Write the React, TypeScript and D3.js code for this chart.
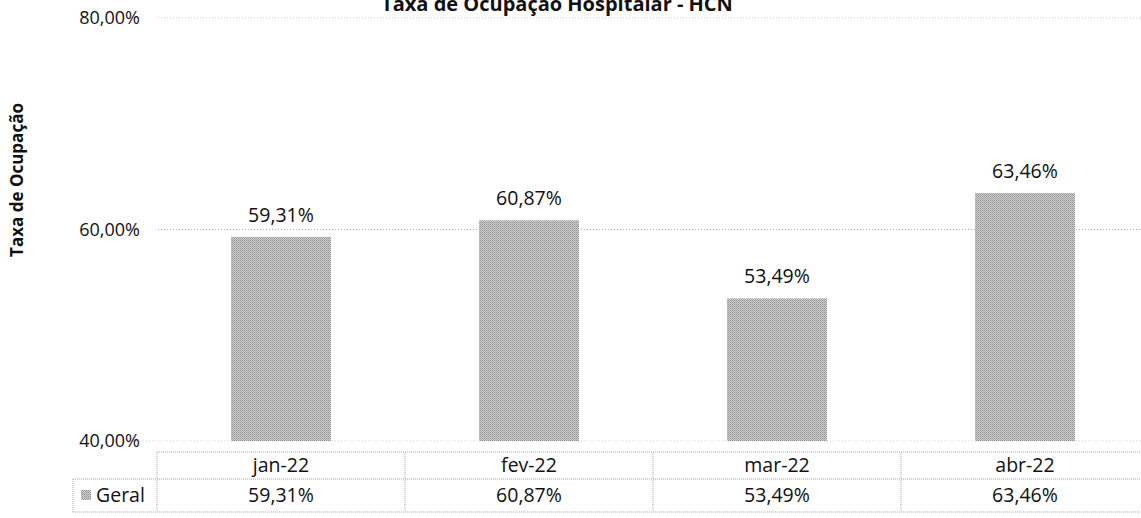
import React from 'react';
import * as d3 from 'd3';

const categories = ['jan-22', 'fev-22', 'mar-22', 'abr-22'];
const geral = [59.31, 60.87, 53.49, 63.46];
const yTicks = [40, 60, 80];
const seriesName = 'Geral';
const title = 'Taxa de Ocupação Hospitalar - HCN';
const yTitle = 'Taxa de Ocupação';

const W = 1141;
const H = 518;
const FONT = '"Open Sans", "Noto Sans", sans-serif';

const ptBR = d3.formatLocale({ decimal: ',', thousands: '.', grouping: [3], currency: ['R$', ''] });
const fmt = (v: number) => ptBR.format('.2f')(v) + '%';

export default function App() {
  const left = 157;
  const right = 1149;
  const top = 18;
  const bottom = 441;

  const x = d3.scaleBand<string>().domain(categories).range([left, right]).paddingInner(0.597).paddingOuter(0.2985);
  const y = d3.scaleLinear().domain([40, 80]).range([bottom, top]);
  const step = x.step();
  const colX = (i: number) => left + i * step;

  const tableTop = 452;
  const rowSep = 479;
  const tableBottom = 512;
  const legendLeft = 73;

  const gridStroke = '#a8a8a8';

  return (
    <svg width={W} height={H} style={{ position: 'absolute', left: 0, top: 0, background: '#fff' }}>
      <defs>
        <pattern id="halftone" width={2} height={2} patternUnits="userSpaceOnUse">
          <rect width={2} height={2} fill="#d2d2d2" />
          <rect width={1} height={1} fill="#8e8e8e" />
          <rect x={1} y={1} width={1} height={1} fill="#a6a6a6" />
        </pattern>
      </defs>

      <text x={557} y={11} textAnchor="middle" fontFamily={FONT} fontWeight="bold" fontSize={20} fill="#111">
        {title}
      </text>

      <text transform={`translate(23,180) rotate(-90)`} textAnchor="middle" fontFamily={FONT} fontWeight="bold" fontSize={17} fill="#111">
        {yTitle}
      </text>

      {yTicks.map((t) => (
        <g key={t}>
          <line x1={t === 40 ? 140 : 158} x2={W} y1={y(t)} y2={y(t)} stroke={gridStroke} strokeWidth={1} strokeDasharray="1,2" opacity={t === 60 ? 1 : 0.55} />
          <text x={140} y={y(t)} dy="0.35em" textAnchor="end" fontFamily={FONT} fontSize={18} fill="#111">
            {ptBR.format('.2f')(t) + '%'}
          </text>
        </g>
      ))}

      {categories.map((c, i) => (
        <g key={c}>
          <rect x={x(c)} y={y(geral[i])} width={x.bandwidth()} height={bottom - y(geral[i])} fill="url(#halftone)" />
          <text x={(x(c) ?? 0) + x.bandwidth() / 2} y={y(geral[i]) - 15} textAnchor="middle" fontFamily={FONT} fontSize={19.5} fill="#111">
            {fmt(geral[i])}
          </text>
        </g>
      ))}

      {/* data table */}
      <g stroke={gridStroke} strokeWidth={1} strokeDasharray="1,1">
        <line x1={left} x2={W} y1={tableTop} y2={tableTop} />
        <line x1={legendLeft} x2={W} y1={rowSep} y2={rowSep} />
        <line x1={legendLeft} x2={W} y1={tableBottom} y2={tableBottom} />
        <line x1={legendLeft} x2={legendLeft} y1={rowSep} y2={tableBottom} />
        {d3.range(categories.length + 1).map((i) => (
          <line key={i} x1={colX(i)} x2={colX(i)} y1={tableTop} y2={tableBottom} />
        ))}
      </g>
      {categories.map((c, i) => (
        <g key={'t' + c}>
          <text x={colX(i) + step / 2} y={(tableTop + rowSep) / 2} dy="0.35em" textAnchor="middle" fontFamily={FONT} fontSize={19.5} fill="#111">
            {c}
          </text>
          <text x={colX(i) + step / 2} y={(rowSep + tableBottom) / 2} dy="0.35em" textAnchor="middle" fontFamily={FONT} fontSize={19.5} fill="#111">
            {fmt(geral[i])}
          </text>
        </g>
      ))}
      <rect x={81} y={490} width={10} height={10} fill="url(#halftone)" />
      <text x={96} y={(rowSep + tableBottom) / 2} dy="0.35em" fontFamily={FONT} fontSize={19.5} fill="#111">
        {seriesName}
      </text>
    </svg>
  );
}
